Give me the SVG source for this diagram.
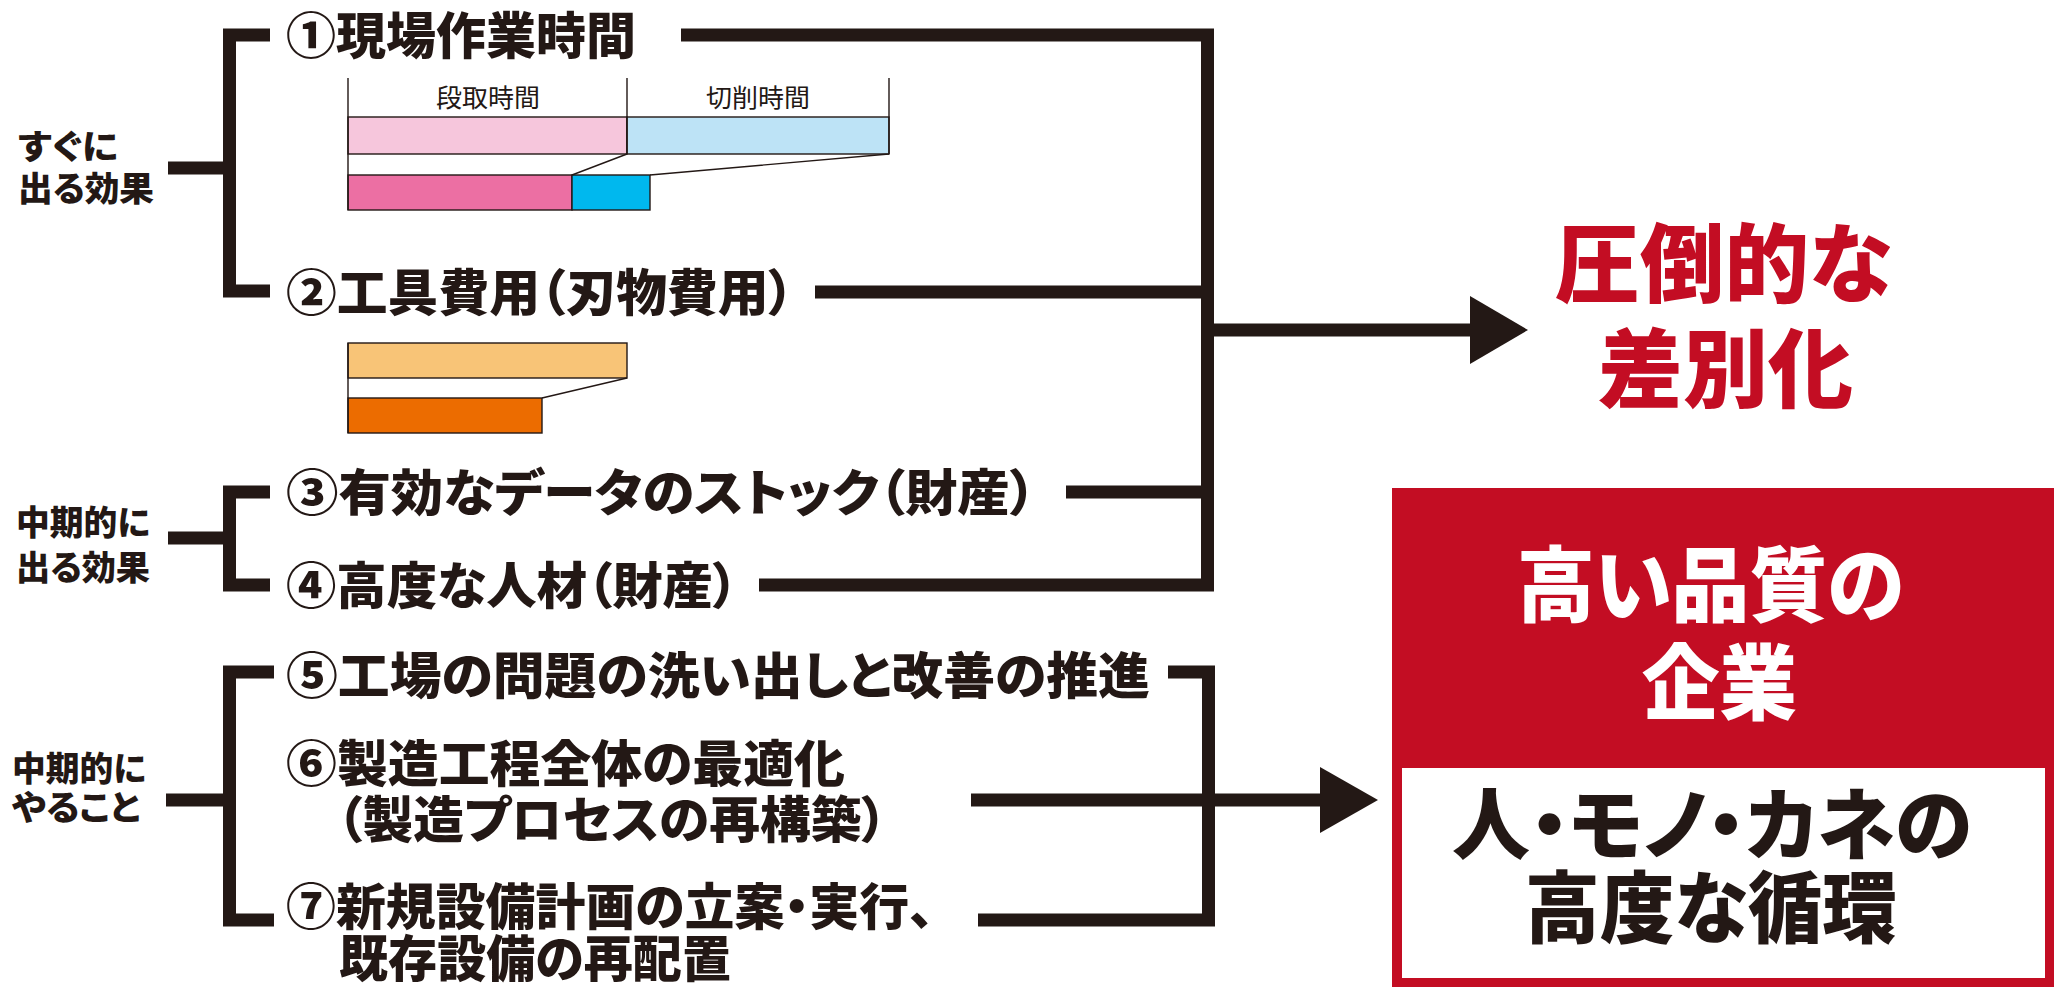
<svg xmlns="http://www.w3.org/2000/svg" width="2058" height="987" viewBox="0 0 2058 987">
<style>
.t{font-family:"Noto Sans CJK JP","Noto Sans CJK SC",sans-serif;font-weight:900;font-feature-settings:"palt";}
.item{font-size:50px;fill:#231815;}
.lbl{font-size:34px;fill:#231815;}
.ch{font-family:"Noto Sans CJK JP","Noto Sans CJK SC",sans-serif;font-weight:400;font-size:25px;fill:#231815;}
.big{font-size:86px;fill:#c30d23;}
.wbig{font-size:82px;fill:#ffffff;}
.kbig{font-size:78px;fill:#231815;}
.ln{fill:none;stroke:#231815;stroke-width:13;stroke-linejoin:miter;}
.thin{fill:none;stroke:#231815;stroke-width:1.4;}
.bar{stroke:#231815;stroke-width:1.4;}
</style>
<rect width="2058" height="987" fill="#ffffff"/>

<g id="label-soon">
<text class="t lbl" x="18" y="159" textLength="100" lengthAdjust="spacingAndGlyphs">すぐに</text>
<text class="t lbl" x="18" y="201" textLength="136" lengthAdjust="spacingAndGlyphs">出る効果</text>
</g>
<g id="label-mid1">
<text class="t lbl" x="16" y="535" textLength="134" lengthAdjust="spacingAndGlyphs">中期的に</text>
<text class="t lbl" x="16" y="580" textLength="134" lengthAdjust="spacingAndGlyphs">出る効果</text>
</g>
<g id="label-mid2">
<text class="t lbl" x="12" y="781" textLength="134" lengthAdjust="spacingAndGlyphs">中期的に</text>
<text class="t lbl" x="12" y="820" textLength="128" lengthAdjust="spacingAndGlyphs">やること</text>
</g>

<g id="item1">
<text class="t item" x="286" y="54" textLength="350" lengthAdjust="spacingAndGlyphs">①現場作業時間</text>
</g>
<g id="chart1">
<rect class="bar" x="348" y="117" width="279" height="37" fill="#f6c6dc"/>
<rect class="bar" x="627" y="117" width="262" height="37" fill="#bde3f6"/>
<rect class="bar" x="348" y="175" width="224" height="35" fill="#ec6fa3"/>
<rect class="bar" x="572" y="175" width="78" height="35" fill="#00b8ee"/>
<path class="thin" d="M348,78 V210 M627,78 V154 M889,78 V154 M627,154 L572,175 M889,154 L650,175"/>
<text class="ch" x="436" y="107" textLength="104" lengthAdjust="spacingAndGlyphs">段取時間</text>
<text class="ch" x="706" y="107" textLength="104" lengthAdjust="spacingAndGlyphs">切削時間</text>
</g>
<g id="item2">
<text class="t item" x="286" y="311" textLength="508" lengthAdjust="spacingAndGlyphs">②工具費用（刃物費用）</text>
</g>
<g id="chart2">
<rect class="bar" x="348" y="343" width="279" height="35" fill="#f8c477"/>
<rect class="bar" x="348" y="398" width="194" height="35" fill="#ec6c00"/>
<path class="thin" d="M348,343 V433 M627,378 L542,398"/>
</g>
<g id="item3">
<text class="t item" x="286" y="511" textLength="750" lengthAdjust="spacingAndGlyphs">③有効なデータのストック（財産）</text>
</g>
<g id="item4">
<text class="t item" x="286" y="604" textLength="452" lengthAdjust="spacingAndGlyphs">④高度な人材（財産）</text>
</g>
<g id="item5">
<text class="t item" x="286" y="694" textLength="864" lengthAdjust="spacingAndGlyphs">⑤工場の問題の洗い出しと改善の推進</text>
</g>
<g id="item6">
<text class="t item" x="286" y="782" textLength="559" lengthAdjust="spacingAndGlyphs">⑥製造工程全体の最適化</text>
<text class="t item" x="337" y="838" textLength="550" lengthAdjust="spacingAndGlyphs">（製造プロセスの再構築）</text>
</g>
<g id="item7">
<text class="t item" x="286" y="925" textLength="648" lengthAdjust="spacingAndGlyphs">⑦新規設備計画の立案・実行、</text>
<text class="t item" x="339" y="977" textLength="392" lengthAdjust="spacingAndGlyphs">既存設備の再配置</text>
</g>

<g id="result-diff">
<text class="t big" x="1555" y="296" textLength="337" lengthAdjust="spacingAndGlyphs">圧倒的な</text>
<text class="t big" x="1598" y="401" textLength="255" lengthAdjust="spacingAndGlyphs">差別化</text>
</g>
<g id="result-quality">
<rect x="1392" y="488" width="662" height="499" fill="#c30d23"/>
<rect x="1402" y="768" width="643" height="210" fill="#ffffff"/>
<text class="t wbig" x="1517" y="615" textLength="387" lengthAdjust="spacingAndGlyphs">高い品質の</text>
<text class="t wbig" x="1642" y="713" textLength="155" lengthAdjust="spacingAndGlyphs">企業</text>
<text class="t kbig" x="1452" y="854" textLength="520" lengthAdjust="spacingAndGlyphs">人・モノ・カネの</text>
<text class="t kbig" x="1525" y="937" textLength="372" lengthAdjust="spacingAndGlyphs">高度な循環</text>
</g>

<g id="connectors">
<path class="ln" d="M270,35 H229.5 V291 H270 M168,168 H229.5"/>
<path class="ln" d="M270,492 H229.5 V585 H270 M168,538 H229.5"/>
<path class="ln" d="M274,672 H229.5 V920 H274 M166,800 H229.5"/>
<path class="ln" d="M681,35 H1207.5 V585 H759 M815,292 H1207.5 M1066,492 H1207.5 M1207.5,330 H1472"/>
<polygon points="1470,296 1528,330 1470,364" fill="#231815"/>
<path class="ln" d="M1168,672 H1208.5 V920 H978 M971,800 H1322"/>
<polygon points="1320,767 1378,800 1320,833" fill="#231815"/>
</g>
</svg>
